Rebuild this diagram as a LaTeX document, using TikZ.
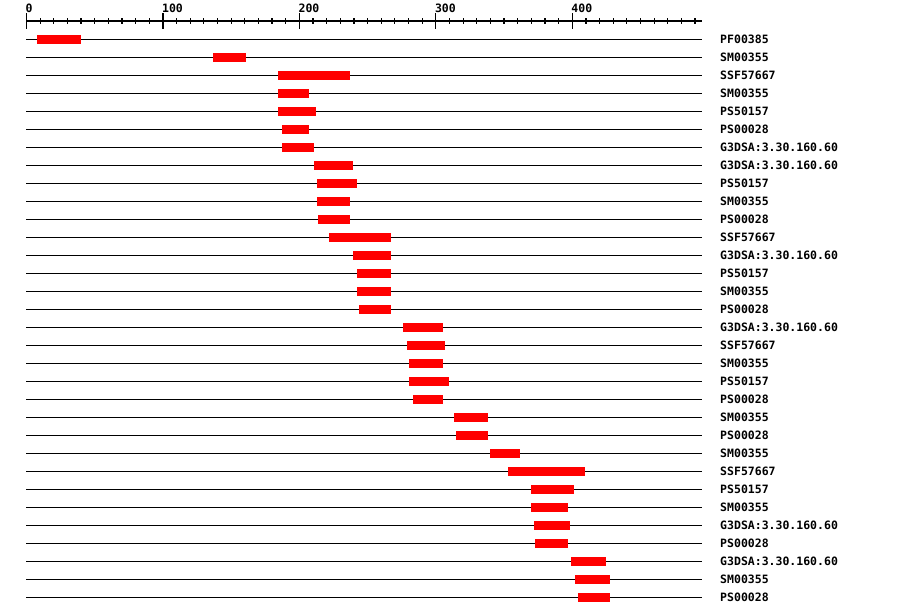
\documentclass[tikz,border=0pt]{standalone}
\usepackage{fontspec}
\setmonofont{DejaVu Sans Mono}
\usepackage{xcolor}
\definecolor{dominio}{RGB}{255,0,0}

\begin{document}
\begin{tikzpicture}[
    x={(1.3645pt,0pt)},
    y={(0pt,-1pt)},
    pista/.style={line width=1.2pt, black},
    caja/.style={fill=dominio},
    etiqueta/.style={font=\ttfamily\bfseries\fontsize{11.5}{12}\selectfont, anchor=base west, inner sep=0pt}
]

\useasboundingbox (-19.42,0) rectangle (640.2,616);

% Eje
\draw[pista] (0,21) -- (495,21);
\foreach \t in {10,20,...,490} \draw[pista] (\t,18) -- (\t,24);
\foreach \t in {0,100,...,400} {
    \draw[pista] (\t,13) -- (\t,29);
    \node[etiqueta, xshift=-1pt] (eje\t) at (\t,12) {\t};
}

% Dominios
\foreach \ini/\fin/\nom [count=\i] in {
    8/40/PF00385, 137/161/SM00355, 184/237/SSF57667, 184/207/SM00355,
    184/212/PS50157, 187/207/PS00028, 187/211/G3DSA:3.30.160.60,
    211/239/G3DSA:3.30.160.60, 213/242/PS50157, 213/237/SM00355,
    214/237/PS00028, 222/267/SSF57667, 239/267/G3DSA:3.30.160.60,
    242/267/PS50157, 242/267/SM00355, 244/267/PS00028,
    276/305/G3DSA:3.30.160.60, 279/307/SSF57667, 280/305/SM00355,
    280/310/PS50157, 283/305/PS00028, 313/338/SM00355, 315/338/PS00028,
    340/362/SM00355, 353/409/SSF57667, 370/401/PS50157, 370/397/SM00355,
    372/398/G3DSA:3.30.160.60, 373/397/PS00028,
    399/425/G3DSA:3.30.160.60, 402/428/SM00355, 404/428/PS00028} {
    \pgfmathsetmacro{\y}{21.3+18*\i}
    \draw[pista] (0,\y) -- (495,\y);
    \fill[caja] (\ini,\y-4.4) rectangle (\fin,\y+4.4);
    \node[etiqueta] (dom\i) at (508.3,\y+4.2) {\nom};
}

\end{tikzpicture}
\end{document}
